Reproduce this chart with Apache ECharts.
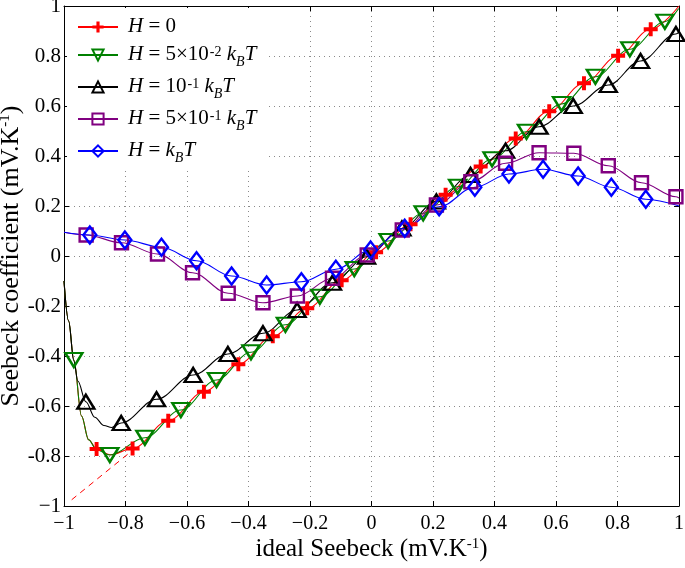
<!DOCTYPE html>
<html>
<head>
<meta charset="utf-8">
<script src="https://cdn.jsdelivr.net/npm/echarts@6/dist/echarts.min.js"></script>
<style>html,body{margin:0;padding:0;background:#fff}#c{width:685px;height:568px}</style>
</head>
<body>
<div id="c"></div>
<script>
// tick values
var xTicks = [-1, -0.8, -0.6, -0.4, -0.2, 0, 0.2, 0.4, 0.6, 0.8, 1];
var yTicks = [-1, -0.8, -0.6, -0.4, -0.2, 0, 0.2, 0.4, 0.6, 0.8, 1];

// H = 0 (markers + extra curve nodes without markers)
var h0X = [-0.894, -0.777, -0.661, -0.545, -0.433, -0.321, -0.209, -0.097, 0.015, 0.127, 0.241, 0.355, 0.469, 0.578, 0.691, 0.802, 0.908];
var h0Y = [-0.772, -0.770, -0.659, -0.543, -0.433, -0.321, -0.209, -0.097, 0.015, 0.127, 0.245, 0.358, 0.470, 0.579, 0.691, 0.801, 0.907];
var h0CurveX = [-1, -0.985, -0.968, -0.943, -0.92, -0.85, 1];
var h0CurveY = [-0.10, -0.26, -0.416, -0.64, -0.735, -0.795, 1];

// H = 5e-2 kBT
var h1X = [-0.968, -0.851, -0.737, -0.620, -0.504, -0.392, -0.280, -0.168, -0.056, 0.054, 0.168, 0.280, 0.392, 0.504, 0.618, 0.728, 0.840, 0.954];
var h1Y = [-0.416, -0.796, -0.727, -0.616, -0.496, -0.385, -0.275, -0.163, -0.052, 0.060, 0.171, 0.277, 0.387, 0.497, 0.608, 0.717, 0.827, 0.937];
var h1CurveX = [-1, -0.985, -0.943, -0.92, -0.894, 0.999];
var h1CurveY = [-0.10, -0.26, -0.64, -0.735, -0.775, 0.99];

// H = 1e-1 kBT
var h2X = [-0.929, -0.814, -0.699, -0.580, -0.467, -0.353, -0.242, -0.127, -0.016, 0.099, 0.211, 0.322, 0.436, 0.545, 0.656, 0.770, 0.875, 0.990];
var h2Y = [-0.583, -0.668, -0.573, -0.476, -0.392, -0.309, -0.216, -0.107, -0.003, 0.110, 0.218, 0.324, 0.421, 0.517, 0.600, 0.684, 0.780, 0.888];
var h2CurveX = [-1, -0.985, -0.968, -0.955, -0.90, -0.87, -0.845, 1];
var h2CurveY = [-0.10, -0.26, -0.42, -0.50, -0.645, -0.678, -0.686, 0.896];

// H = 5e-1 kBT
var h3X = [-0.928, -0.813, -0.696, -0.582, -0.466, -0.353, -0.241, -0.127, -0.014, 0.100, 0.211, 0.323, 0.436, 0.545, 0.658, 0.770, 0.878, 0.990];
var h3Y = [0.084, 0.053, 0.008, -0.067, -0.149, -0.187, -0.160, -0.089, 0.004, 0.104, 0.204, 0.297, 0.371, 0.413, 0.411, 0.361, 0.293, 0.237];
var h3CurveX = [-1, 1];
var h3CurveY = [0.095, 0.232];

// H = kBT
var h4X = [-0.916, -0.802, -0.683, -0.569, -0.455, -0.341, -0.228, -0.116, -0.003, 0.108, 0.220, 0.336, 0.447, 0.558, 0.672, 0.780, 0.892];
var h4Y = [0.084, 0.064, 0.035, -0.019, -0.080, -0.116, -0.103, -0.053, 0.024, 0.111, 0.197, 0.275, 0.328, 0.347, 0.320, 0.275, 0.227];
var h4CurveX = [-1, 1];
var h4CurveY = [0.095, 0.200];

// ideal (dashed) line
var idealX = [-0.975, -0.78];
var idealY = [-0.975, -0.78];

var names = ['H0', 'H1', 'H2', 'H3', 'H4'];
var labels = {
  H0: '{h|H}{n| = 0}',
  H1: '{h|H}{n| = 5×10}{sup|-2}{n| }{i|k}{sub|B}{i|T}',
  H2: '{h|H}{n| = 10}{sup|-1}{n| }{i|k}{sub|B}{i|T}',
  H3: '{h|H}{n| = 5×10}{sup|-1}{n| }{i|k}{sub|B}{i|T}',
  H4: '{h|H}{n| = }{i|k}{sub|B}{i|T}'
};

function build(mx, my, cx, cy) {
  var pts = [];
  for (var i = 0; i < mx.length; i++) pts.push({ value: [mx[i], my[i]] });
  for (var j = 0; j < cx.length; j++) pts.push({ value: [cx[j], cy[j]], symbol: 'none' });
  pts.sort(function (a, b) { return a.value[0] - b.value[0]; });
  return pts;
}

var FONT = 'Liberation Serif';
var plusPath = 'path://M3.6,0H6.4V3.6H10V6.4H6.4V10H3.6V6.4H0V3.6H3.6Z';

function lineSeries(name, color, data, symbol, size, rotate, plus) {
  return {
    name: name, type: 'line', data: data,
    smooth: 0.35, smoothMonotone: 'x',
    symbol: symbol, symbolSize: size, symbolRotate: rotate || 0,
    showAllSymbol: true,
    lineStyle: { color: color, width: 1.1 },
    itemStyle: plus ? { color: color, borderWidth: 0 } :
      { color: 'rgba(255,255,255,0)', borderColor: color, borderWidth: 2.4 },
    emphasis: { disabled: true },
    animation: false
  };
}

var chart = echarts.init(document.getElementById('c'), null, { renderer: 'canvas' });

var axisCommon = {
  type: 'value', min: -1, max: 1, interval: 0.2,
  nameMoveOverlap: false,
  axisLine: { show: true, onZero: false, lineStyle: { color: '#000', width: 1 } },
  axisTick: { show: true, inside: true, length: 5, lineStyle: { color: '#000' } }
};

function fmtX(v) {
  if (Math.abs(v) < 1e-9) return '0';
  var s = (Math.round(v * 10) / 10).toString();
  return s.replace('-', '\u2212');
}
function fmtY(v) {
  if (Math.abs(v) < 1e-9) return '0';
  var r = Math.round(v * 10) / 10;
  if (r === -1) return '\u22121';
  return r.toString();
}

var supStyle = function (lh) {
  return { fontFamily: FONT, fontSize: 15, color: '#000', verticalAlign: 'top', lineHeight: lh };
};

var option = {
  backgroundColor: '#fff',
  animation: false,
  grid: { left: 64, right: 6, top: 6, bottom: 62, containLabel: false, outerBoundsMode: 'none' },
  legend: {
    data: names, orient: 'vertical', left: 67, top: 8,
    backgroundColor: '#fff', padding: [8, 10, 6, 10],
    itemWidth: 40, itemHeight: 14, itemGap: 7,
    formatter: function (n) { return labels[n]; },
    textStyle: {
      fontFamily: FONT, fontSize: 21, color: '#000',
      rich: {
        h: { fontFamily: FONT, fontSize: 21, fontStyle: 'italic', color: '#000', lineHeight: 20, verticalAlign: 'bottom', padding: [0, 0, 0, 5] },
        i: { fontFamily: FONT, fontSize: 21, fontStyle: 'italic', color: '#000', lineHeight: 20, verticalAlign: 'bottom' },
        n: { fontFamily: FONT, fontSize: 21, color: '#000', lineHeight: 20, verticalAlign: 'bottom' },
        sup: { fontFamily: FONT, fontSize: 14, color: '#000', lineHeight: 20, verticalAlign: 'top', padding: [0, 0, 0, 1] },
        sub: { fontFamily: FONT, fontSize: 14, fontStyle: 'italic', color: '#000', lineHeight: 14, verticalAlign: 'bottom', padding: [0, 0, -4, 0] }
      }
    }
  },
  xAxis: [
    Object.assign({}, axisCommon, {
      position: 'bottom',
      name: 'ideal Seebeck (mV.K{sup|-1})', nameLocation: 'middle', nameGap: 31,
      nameTextStyle: { fontFamily: FONT, fontSize: 25, color: '#000', rich: { sup: supStyle(25) } },
      axisLabel: { fontFamily: FONT, fontSize: 20, color: '#000', margin: 8, formatter: fmtX },
      splitLine: { show: true, lineStyle: { color: '#8a8a8a', width: 1, type: [1, 4] } }
    }),
    Object.assign({}, axisCommon, {
      position: 'top', axisLabel: { show: false }, splitLine: { show: false }
    })
  ],
  yAxis: [
    Object.assign({}, axisCommon, {
      position: 'left',
      name: 'Seebeck coefficient (mV.K{sup|-1})', nameLocation: 'middle', nameGap: 40, nameRotate: 90,
      nameTextStyle: { fontFamily: FONT, fontSize: 26, color: '#000', rich: { sup: supStyle(26) } },
      axisLabel: { fontFamily: FONT, fontSize: 21, color: '#000', margin: 3, formatter: fmtY },
      splitLine: { show: true, lineStyle: { color: '#8a8a8a', width: 1, type: [1, 4] } }
    }),
    Object.assign({}, axisCommon, {
      position: 'right', axisLabel: { show: false }, splitLine: { show: false }
    })
  ],
  series: [
    {
      name: 'ideal', type: 'line', data: idealX.map(function (x, i) { return [x, idealY[i]]; }),
      symbol: 'none', lineStyle: { color: '#ff0000', width: 1, type: [6, 5] }, animation: false
    },
    lineSeries('H0', '#ff0000', build(h0X, h0Y, h0CurveX, h0CurveY), plusPath, 14, 0, true),
    lineSeries('H1', '#008000', build(h1X, h1Y, h1CurveX, h1CurveY), 'triangle', [17, 14], 180, false),
    lineSeries('H2', '#000000', build(h2X, h2Y, h2CurveX, h2CurveY), 'triangle', [17, 14], 0, false),
    lineSeries('H3', '#800080', build(h3X, h3Y, h3CurveX, h3CurveY), 'rect', 13, 0, false),
    lineSeries('H4', '#0000ff', build(h4X, h4Y, h4CurveX, h4CurveY), 'diamond', [13, 17], 0, false)
  ]
};
chart.setOption(option);
</script>
</body>
</html>
